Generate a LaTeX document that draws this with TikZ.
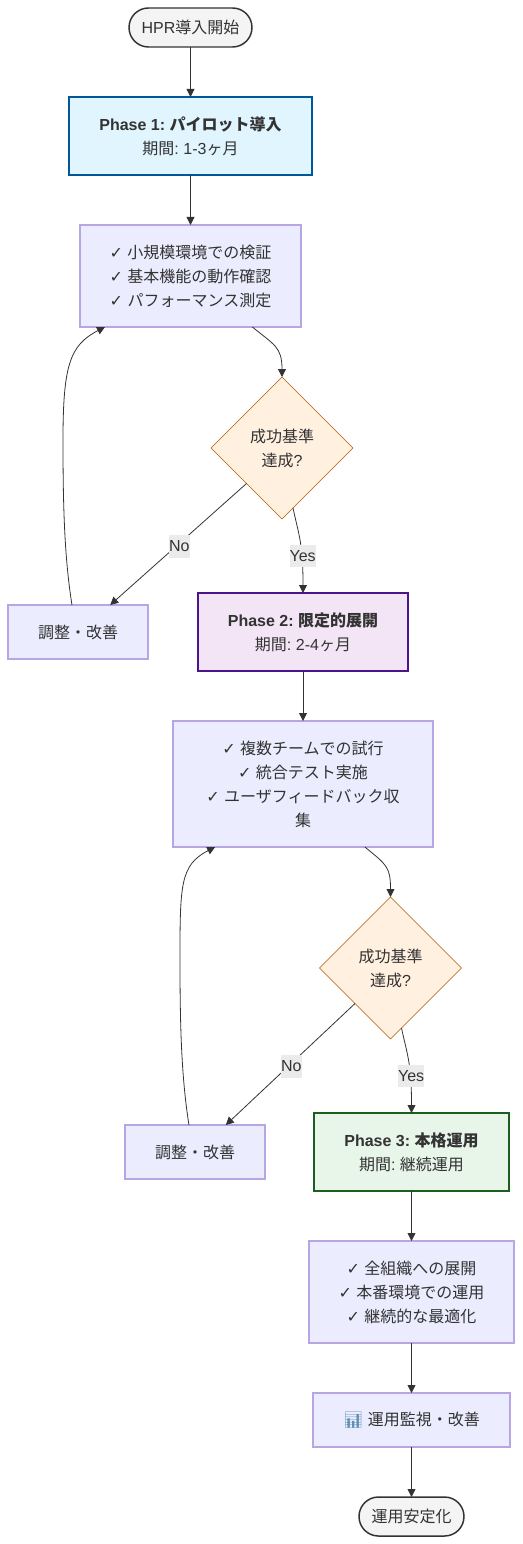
\documentclass[tikz,border=0pt]{standalone}
\usepackage{fontspec}
\setmainfont{Liberation Sans}
\newfontfamily\jp{Noto Sans CJK JP}
\newfontfamily\chk{DejaVu Sans}
\newfontfamily\emo{Noto Emoji}
\usetikzlibrary{shapes.geometric,arrows.meta,calc}
\newcommand{\J}[1]{{\jp #1}}
\newcommand{\ck}{{\chk ✓}\ }
\definecolor{ink}{HTML}{333333}
\definecolor{lav}{HTML}{ECECFF}
\definecolor{lavline}{HTML}{B8A5E3}
\definecolor{chartc}{HTML}{5F8FB5}
\tikzset{
  x=0.75pt,y=-0.75pt,
  every node/.style={font=\frenchspacing\fontsize{12}{18}\selectfont,text=ink,align=center,inner sep=0pt,outer sep=0pt},
  term/.style={draw=ink,line width=1.1pt,fill=black!4.5,rounded corners=14.6pt,minimum height=29.25pt},
  phase/.style={line width=1.5pt,minimum height=58.5pt},
  stepbox/.style={draw=lavline,fill=lav,line width=0.8pt},
  decide/.style={diamond,aspect=1,draw=orange!70!black,fill=orange!12!white,line width=0.4pt,minimum width=106.5pt,minimum height=106.5pt},
  link/.style={draw=ink,line width=0.6pt,-{Triangle[length=6pt,width=6pt]}},
  lab/.style={fill=black!8,inner sep=0pt,minimum height=17pt}
}
\begin{document}
\begin{tikzpicture}
\useasboundingbox (0,0) rectangle (522,1544);
\node[term,minimum width=92.25pt] (start) at (190.5,27.5) {HPR\J{導入開始}};
\node[phase,fill=cyan!12!white,draw={rgb,255:red,1;green,87;blue,155},minimum width=182.25pt] (p1) at (190.5,136) {\textbf{Phase 1: \J{パイロット導入}}\\\J{期間}: 1-3\J{ヶ月}};
\node[stepbox,minimum width=165.75pt,minimum height=76.5pt] (b1) at (190.5,276) {\ck\J{小規模環境での検証}\\\ck\J{基本機能の動作確認}\\\ck\J{パフォーマンス測定}};
\node[decide] (d1) at (282,448) {\J{成功基準}\\\J{達成}?};
\node[stepbox,minimum width=105pt,minimum height=40.5pt] (a1) at (78,632) {\J{調整・改善}};
\node[phase,fill={rgb,255:red,243;green,229;blue,245},draw={rgb,255:red,74;green,20;blue,140},minimum width=157.5pt] (p2) at (303,632) {\textbf{Phase 2: \J{限定的展開}}\\\J{期間}: 2-4\J{ヶ月}};
\node[stepbox,minimum width=195pt,minimum height=94.5pt] (b2) at (303,784) {\ck\J{複数チームでの試行}\\\ck\J{統合テスト実施}\\\ck\J{ユーザフィードバック収}\\\J{集}};
\node[decide] (d2) at (390.5,968) {\J{成功基準}\\\J{達成}?};
\node[stepbox,minimum width=105pt,minimum height=40.5pt] (a2) at (195,1152) {\J{調整・改善}};
\node[phase,fill={rgb,255:red,232;green,245;blue,233},draw={rgb,255:red,27;green,94;blue,32},minimum width=146.25pt] (p3) at (411.5,1152) {\textbf{Phase 3: \J{本格運用}}\\\J{期間}: \J{継続運用}};
\node[stepbox,minimum width=153.75pt,minimum height=76.5pt] (b3) at (411.5,1292) {\ck\J{全組織への展開}\\\ck\J{本番環境での運用}\\\ck\J{継続的な最適化}};
\node[stepbox,minimum width=147.75pt,minimum height=40.5pt] (m) at (411.5,1420) {{\emo\color{chartc} 📊} \J{運用監視・改善}};
\node[term,minimum width=78.75pt] (end) at (411.5,1516.5) {\J{運用安定化}};

\draw[link] (start.south) -- (p1.north);
\draw[link] (p1.south) -- (b1.north);
\coordinate (b1out) at ($(b1.south west)!0.78!(b1.south east)$);
\coordinate (b1in) at ($(b1.south west)!0.113!(b1.south east)$);
\draw[link] (b1out) .. controls +(22,18) and +(0,-30) .. (d1.north);
\coordinate (d1y) at ($(d1.south)!0.155!(d1.east)$);
\draw[link] (d1y) .. controls +(6,28) and +(0,-50) .. (p2.north) node[pos=0.68,lab,minimum width=19.5pt,xshift=0.6pt] (ly1) {Yes};
\draw[link] (d1.south west) -- ($(a1.north west)!0.73!(a1.north east)$) node[pos=0.5,lab,minimum width=14.5pt,yshift=-1.5pt,xshift=0.75pt] (ln1) {No};
\coordinate (a1o) at ($(a1.north west)!0.457!(a1.north east)$);
\coordinate (a1v) at ($(a1.north west)+(55,-165)$);
\draw[link] (a1o) .. controls +(-8,-50) and +(0,60) .. (a1v) .. controls +(0,-75) and +(-35,18) .. (b1in);
\draw[link] (p2.south) -- (b2.north);
\coordinate (b2out) at ($(b2.south west)!0.738!(b2.south east)$);
\coordinate (b2in) at ($(b2.south west)!0.162!(b2.south east)$);
\draw[link] (b2out) .. controls +(22,18) and +(0,-30) .. (d2.north);
\coordinate (d2y) at ($(d2.south)!0.155!(d2.east)$);
\draw[link] (d2y) .. controls +(6,28) and +(0,-50) .. (p3.north) node[pos=0.68,lab,minimum width=19.5pt,xshift=0.6pt] (ly2) {Yes};
\draw[link] (d2.south west) -- ($(a2.north west)!0.72!(a2.north east)$) node[pos=0.5,lab,minimum width=14.5pt,yshift=-1.5pt,xshift=0.75pt] (ln2) {No};
\coordinate (a2o) at ($(a2.north west)!0.457!(a2.north east)$);
\coordinate (a2v) at ($(a2.north west)+(55,-165)$);
\draw[link] (a2o) .. controls +(-8,-50) and +(0,60) .. (a2v) .. controls +(0,-75) and +(-35,18) .. (b2in);
\draw[link] (p3.south) -- (b3.north);
\draw[link] (b3.south) -- (m.north);
\draw[link] (m.south) -- (end.north);
\end{tikzpicture}
\end{document}
